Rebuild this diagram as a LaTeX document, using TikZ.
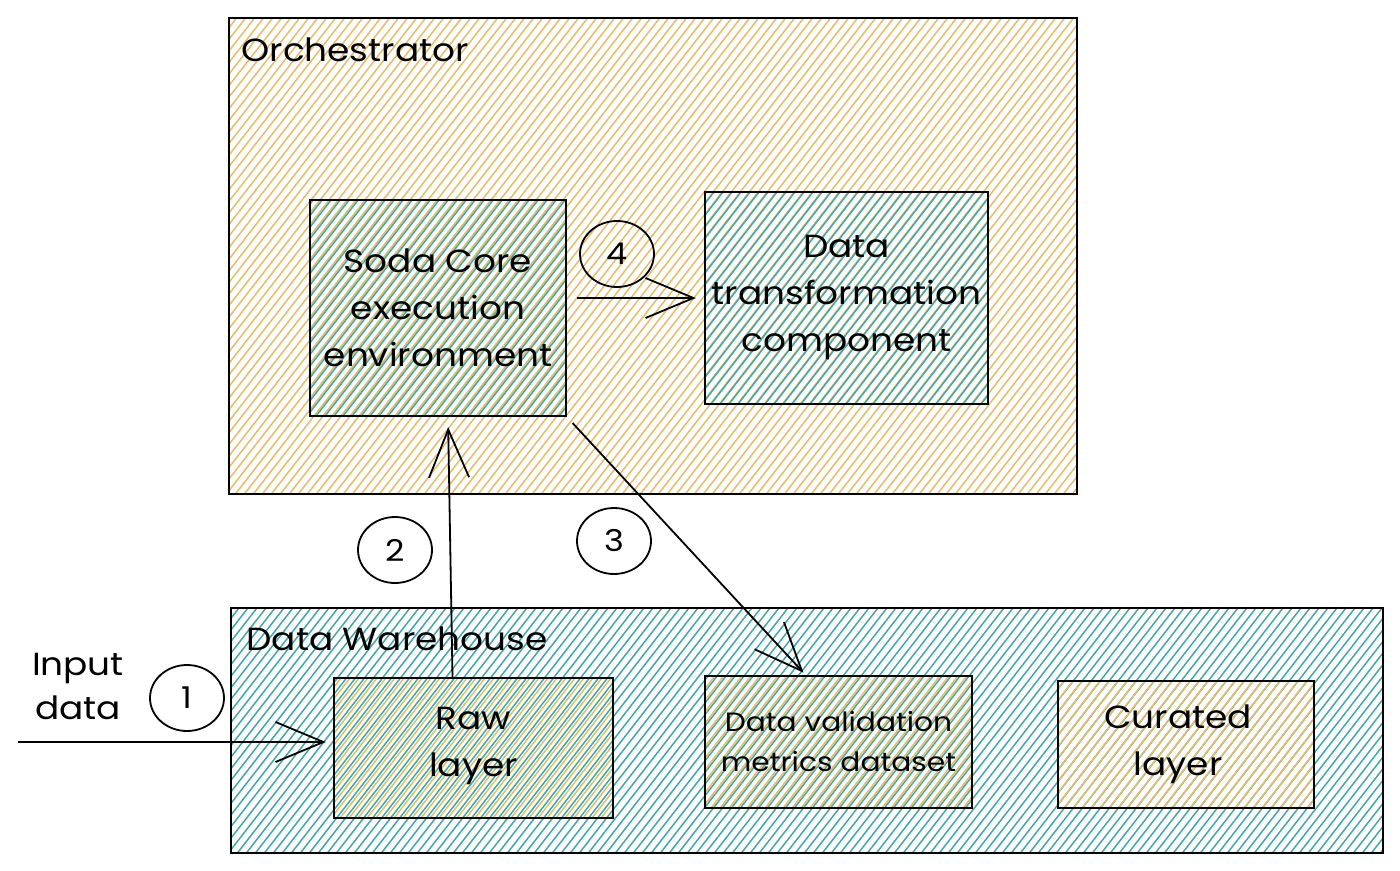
\documentclass[tikz,border=0pt]{standalone}
\usepackage{fontspec}
\setmainfont{Poppins}[FakeStretch=1.12]
\usetikzlibrary{arrows.meta,shapes.geometric}
\definecolor{hyel}{RGB}{228,190,104}
\definecolor{hteal}{RGB}{66,168,168}
\tikzset{
  hatchbox/.style={draw=black, line width=2.3pt, rectangle, inner sep=0pt,
    path picture={
      \foreach \i in {-420,-411,...,1160}
        \draw[#1, line width=1.5pt]
          ([xshift=\i pt, yshift=-4pt]path picture bounding box.south west) -- ++(420pt,540pt);
    }},
  lbl/.style={font=\fontsize{32}{47}\selectfont, align=center, text=black},
  small/.style={font=\fontsize{26.5}{40}\selectfont, align=center, text=black},
  badge/.style={draw=black, line width=1.8pt, ellipse, minimum width=74pt, minimum height=66pt,
    inner sep=0pt, font=\fontsize{30}{32}\selectfont},
  arr/.style={draw=black, line width=1.8pt, -{Straight Barb[length=48pt,width=40pt,line width=1.8pt]}},
}
\begin{document}
\begin{tikzpicture}[x=1pt,y=-1pt]
\useasboundingbox[fill=white] (0,0) rectangle (1400,870);
% containers
\node[hatchbox=hyel, minimum width=848pt, minimum height=476pt, anchor=north west] (orch) at (228,17) {};
\node[lbl, anchor=west] (orchl) at (238,50) {Orchestrator};
\node[hatchbox=hteal, minimum width=1152pt, minimum height=245pt, anchor=north west] (dw) at (230,607) {};
\node[lbl, anchor=west] (dwl) at (243,639) {Data Warehouse};
% inner boxes
\node[hatchbox=hteal, minimum width=256pt, minimum height=216pt] (soda) at (438,308) {};
\node[lbl] at (soda) {Soda Core\\execution\\environment};
\node[hatchbox=hteal, minimum width=283pt, minimum height=212pt] (dtc) at (846.5,298) {};
\node[lbl] at (dtc) {Data\\transformation\\component};
\node[hatchbox=hyel, minimum width=279pt, minimum height=140pt] (raw) at (473.5,748) {};
\node[lbl] at ([yshift=2pt]raw.center) {Raw\\layer};
\node[hatchbox=hyel, minimum width=267pt, minimum height=132pt] (dvm) at (838.5,742) {};
\node[small] at (dvm) {Data validation\\metrics dataset};
\node[hatchbox=hyel, minimum width=256pt, minimum height=127pt] (cur) at (1186,744.5) {};
\node[lbl] at ([xshift=-8pt]cur.center) {Curated\\layer};
% input text
\node[lbl, font=\fontsize{32}{44}\selectfont] (inp) at (78,686) {Input\\data};
\coordinate (in1) at (18,742);
% badges
\node[badge] (c1) at (187,698) {1};
\node[badge] (c2) at (395,550) {2};
\node[badge] (c3) at (614,541) {3};
\node[badge] (c4) at (617,254) {4};
% connectors
\draw[arr, shorten >=7pt] (in1) -- (in1 -| raw.west);
\draw[arr, shorten >=10pt] ([xshift=-21pt]raw.north) -- ([xshift=10pt]soda.south);
\draw[arr, shorten <=8pt, shorten >=3pt] (soda.south east) -- ([xshift=-33pt]dvm.north);
\draw[arr, shorten <=10pt, shorten >=8pt] (soda.east |- dtc.west) -- (dtc.west);
\end{tikzpicture}
\end{document}
